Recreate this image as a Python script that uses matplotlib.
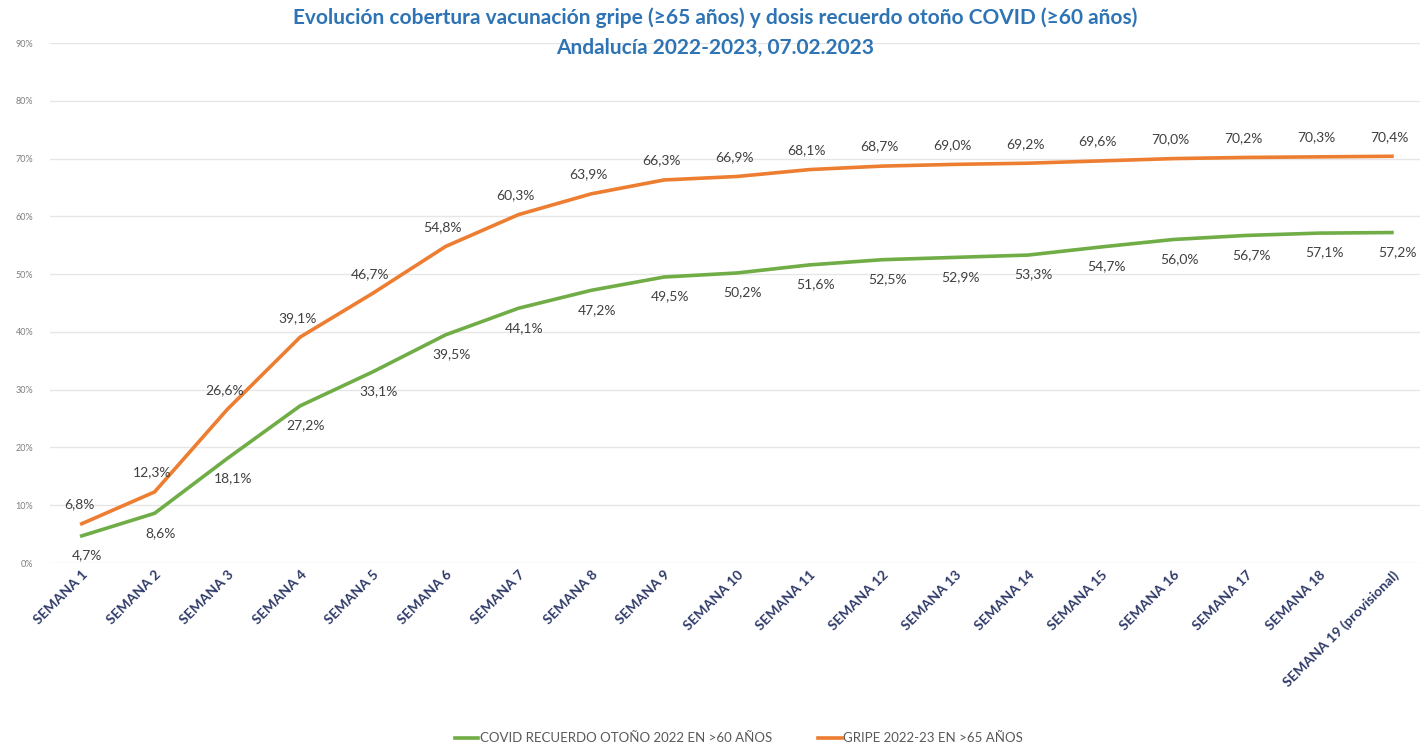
import matplotlib.pyplot as plt
from matplotlib.ticker import FuncFormatter

plt.rcParams["font.family"] = ["Lato", "DejaVu Sans"]

semanas = [f"SEMANA {i}" for i in range(1, 19)] + ["SEMANA 19 (provisional)"]
covid = [4.7, 8.6, 18.1, 27.2, 33.1, 39.5, 44.1, 47.2, 49.5, 50.2,
         51.6, 52.5, 52.9, 53.3, 54.7, 56.0, 56.7, 57.1, 57.2]
gripe = [6.8, 12.3, 26.6, 39.1, 46.7, 54.8, 60.3, 63.9, 66.3, 66.9,
         68.1, 68.7, 69.0, 69.2, 69.6, 70.0, 70.2, 70.3, 70.4]

GREEN = "#70AD47"
ORANGE = "#ED7D31"
TITLE_BLUE = "#2E74B5"
NAVY = "#2F3A68"


def pct(v):
    return f"{v:.1f}%".replace(".", ",")


fig = plt.figure(figsize=(14.21, 7.51), dpi=100)
ax = fig.add_axes([0.035, 0.2503, 0.964, 0.6924])

x = list(range(len(semanas)))
ax.plot(x, covid, color=GREEN, lw=2.6, label="COVID RECUERDO OTOÑO 2022 EN >60 AÑOS")
ax.plot(x, gripe, color=ORANGE, lw=2.6, label="GRIPE 2022-23 EN >65 AÑOS")

for xi, v in zip(x, covid):
    ax.annotate(pct(v), (xi, v), xytext=(4, -14), textcoords="offset points",
                ha="center", va="center", fontsize=10, color="#404040")
for xi, v in zip(x, gripe):
    ax.annotate(pct(v), (xi, v), xytext=(-2, 14), textcoords="offset points",
                ha="center", va="center", fontsize=10, color="#404040")

ax.set_xlim(-0.44, 18.38)
ax.set_ylim(0, 90)
ax.set_yticks(range(0, 100, 10))
ax.yaxis.set_major_formatter(FuncFormatter(lambda v, p: f"{int(v)}%"))
ax.grid(axis="y", color="#E6E6E6", lw=1)
ax.set_axisbelow(True)
for s in ax.spines.values():
    s.set_visible(False)
ax.tick_params(axis="y", length=0, labelsize=6.5, labelcolor="#7F7F7F", pad=12)
ax.tick_params(axis="x", length=0, pad=4)
ax.set_xticks(x)
ax.set_xticklabels(semanas, rotation=45, ha="right", rotation_mode="anchor",
                   fontsize=10, fontweight="bold", color=NAVY)

fig.text(0.503, 0.976, "Evolución cobertura vacunación gripe (≥65 años) y dosis recuerdo otoño COVID (≥60 años)",
         ha="center", va="center", fontsize=15, fontweight="bold", color=TITLE_BLUE)
fig.text(0.503, 0.936, "Andalucía 2022-2023, 07.02.2023",
         ha="center", va="center", fontsize=15, fontweight="bold", color=TITLE_BLUE)

fig.legend(loc="center", bbox_to_anchor=(0.52, 0.017), ncol=2, frameon=False,
           fontsize=9.5, labelcolor="#595959", handlelength=1.8, handletextpad=0.1,
           columnspacing=3.5)

fig.savefig("out.png", dpi=100)
